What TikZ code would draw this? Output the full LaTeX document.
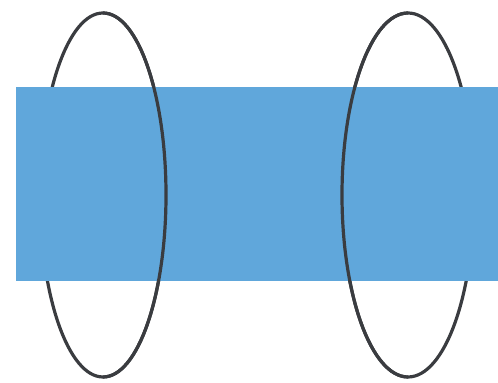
\documentclass[tikz,border=0pt]{standalone}
\usepackage{xcolor}
\usepackage{tikz}

\definecolor{barblue}{RGB}{96,167,219}
\definecolor{ringgray}{RGB}{58,60,64}

\begin{document}
\begin{tikzpicture}[x=0.5pt, y=-0.5pt,
  ring/.style={draw=ringgray, line width=1.6pt},
  bar/.style={fill=barblue, draw=none}
]
  \useasboundingbox (0,0) rectangle (498,383);
  % back halves of the two rings
  \draw[ring] (103,195) ellipse [x radius=63, y radius=182];
  \draw[ring] (408,195) ellipse [x radius=66, y radius=182];
  % the bar
  \path[bar] (16,87) rectangle (498,281);
  % front halves drawn over the bar (right side of left ring, left side of right ring)
  \draw[ring] (103,13) arc [start angle=90, end angle=-90, x radius=63, y radius=-182];
  \draw[ring] (408,13) arc [start angle=90, end angle=270, x radius=66, y radius=-182];
\end{tikzpicture}
\end{document}
